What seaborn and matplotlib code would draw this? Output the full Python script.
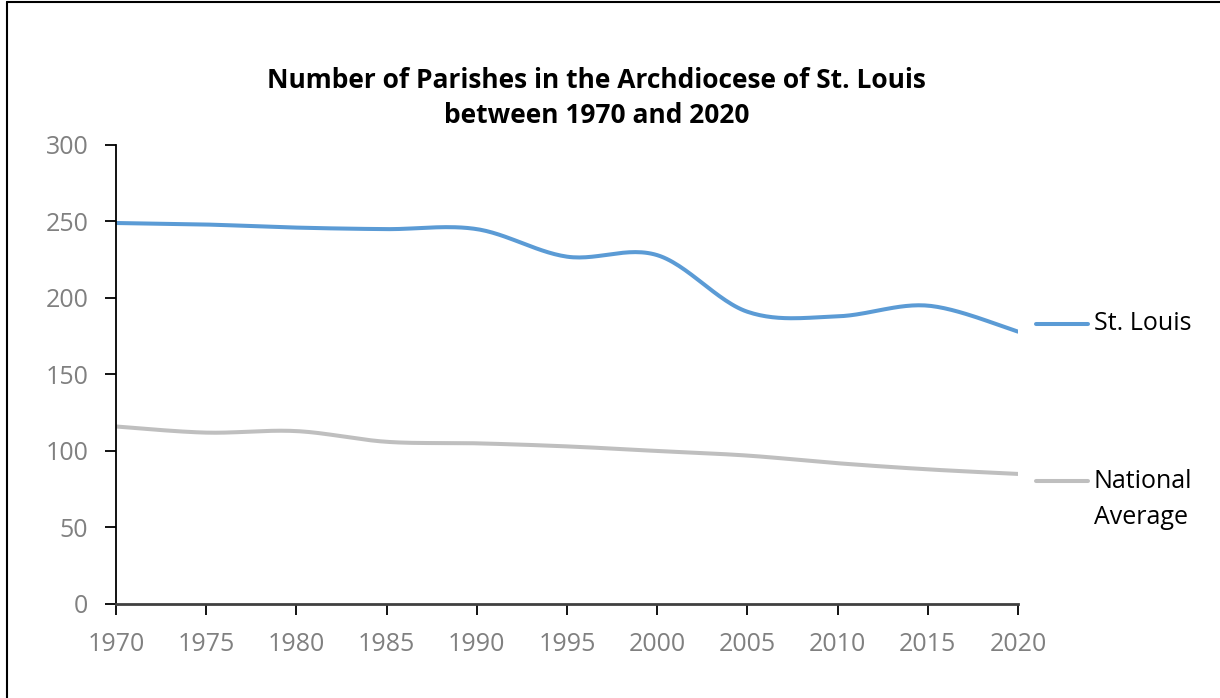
import numpy as np
import pandas as pd
import matplotlib
matplotlib.use("Agg")
import matplotlib.pyplot as plt
import seaborn as sns
from matplotlib.lines import Line2D

years = [1970, 1975, 1980, 1985, 1990, 1995, 2000, 2005, 2010, 2015, 2020]
st_louis = [249, 248, 246, 245, 245, 227, 228, 191, 188, 195, 178]
national = [116, 112, 113, 106, 105, 103, 100, 97, 92, 88, 85]
y_ticks = [0, 50, 100, 150, 200, 250, 300]

BLUE = "#5B9BD5"
GREY = "#BFBFBF"
LABEL_GREY = "#808080"


def smooth(xs, ys, n=30):
    # Excel-like smoothed line: cubic bezier through the points (Catmull-Rom style)
    xs = np.asarray(xs, float)
    ys = np.asarray(ys, float)
    px = np.concatenate([[xs[0]], xs, [xs[-1]]])
    py = np.concatenate([[ys[0]], ys, [ys[-1]]])
    out_x, out_y = [], []
    t = np.linspace(0, 1, n)
    for i in range(1, len(px) - 2):
        p0 = np.array([px[i], py[i]])
        p3 = np.array([px[i + 1], py[i + 1]])
        c1 = p0 + (np.array([px[i + 1], py[i + 1]]) - np.array([px[i - 1], py[i - 1]])) / 6
        c2 = p3 - (np.array([px[i + 2], py[i + 2]]) - np.array([px[i], py[i]])) / 6
        b = ((1 - t) ** 3)[:, None] * p0 + (3 * (1 - t) ** 2 * t)[:, None] * c1 \
            + (3 * (1 - t) * t ** 2)[:, None] * c2 + (t ** 3)[:, None] * p3
        out_x.extend(b[:, 0])
        out_y.extend(b[:, 1])
    return out_x, out_y


sns.set_style("white")
plt.rcParams["font.family"] = ["Open Sans", "DejaVu Sans"]

fig = plt.figure(figsize=(12.2, 6.98), dpi=100)
ax = fig.add_axes([0.0951, 0.1347, 0.8344 - 0.0951, 0.7923 - 0.1347])

for vals, color in [(national, GREY), (st_louis, BLUE)]:
    sx, sy = smooth(years, vals)
    df = pd.DataFrame({"year": sx, "value": sy})
    sns.lineplot(data=df, x="year", y="value", sort=False, color=color,
                 linewidth=2.9, ax=ax, solid_capstyle="round")

ax.set_xlim(1970, 2020)
ax.set_ylim(0, 300)
ax.set_xticks(years)
ax.set_yticks(y_ticks)
ax.set_xlabel("")
ax.set_ylabel("")

for side in ["top", "right"]:
    ax.spines[side].set_visible(False)
ax.spines["left"].set_color("black")
ax.spines["left"].set_linewidth(1.3)
ax.spines["bottom"].set_color("#404040")
ax.spines["bottom"].set_linewidth(2.0)
ax.tick_params(axis="both", direction="out", length=8, width=1.3, color="black",
               labelsize=18, labelcolor=LABEL_GREY, bottom=True, left=True)
ax.tick_params(axis="x", pad=12)
ax.tick_params(axis="y", pad=12)

fig.suptitle("Number of Parishes in the Archdiocese of St. Louis\nbetween 1970 and 2020",
             x=0.489, y=0.904, fontsize=19, fontweight="bold", linespacing=1.4,
             color="black")

# series labels at the right end, Excel style
for label, color, ypx, ty in [("St. Louis", BLUE, 324, 324),
                              ("National\nAverage", GREY, 481, 499.5)]:
    yf = 1 - ypx / 698
    fig.add_artist(Line2D([1036 / 1220, 1088 / 1220], [yf, yf], color=color,
                          linewidth=2.9, solid_capstyle="round"))
    fig.text(1094 / 1220, 1 - ty / 698, label, fontsize=18, va="center", ha="left",
             color="black", linespacing=1.55)

# outer chart border
fig.add_artist(Line2D([7 / 1220, 7 / 1220], [0, 1 - 2 / 698], color="black", linewidth=1.5))
fig.add_artist(Line2D([7 / 1220, 1], [1 - 2 / 698, 1 - 2 / 698], color="black", linewidth=1.5))

fig.savefig("out.png", dpi=100)
